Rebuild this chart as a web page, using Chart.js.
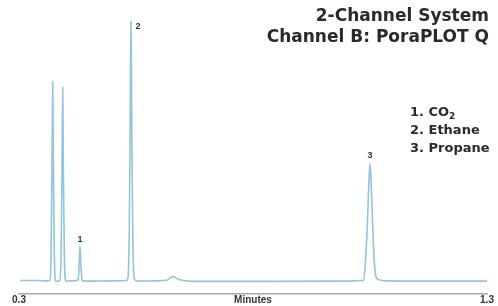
<!DOCTYPE html>
<html>
<head>
<meta charset="utf-8">
<script src="https://cdn.jsdelivr.net/npm/chart.js@4.4.1/dist/chart.umd.min.js"></script>
<style>
  body { margin: 0; background: #fff; }
  #wrap { position: relative; width: 498px; height: 306px; }
  .title {
    position: absolute; right: 9px; top: 5px;
    font-family: "DejaVu Sans", sans-serif; font-weight: bold;
    font-size: 17px; line-height: 21px; color: #2a2a2a; text-align: right;
  }
  .compounds {
    position: absolute; left: 410px; top: 103px;
    font-family: "DejaVu Sans", sans-serif; font-weight: bold;
    font-size: 13px; line-height: 18px; color: #2a2a2a;
  }
  .compounds sub { font-size: 9px; vertical-align: -3px; line-height: 0; }
</style>
</head>
<body>
<div id="wrap">
  <canvas id="chromChart"></canvas>
  <div class="title">2-Channel System<br>Channel B: PoraPLOT Q</div>
  <div class="compounds">1. CO<sub>2</sub><br>2. Ethane<br>3. Propane</div>
</div>
<script>
// retention time (min) and detector signal
const times = [
  0.302, 0.340, 0.360,
  0.3655, 0.3685, 0.3705, 0.3720, 0.3735, 0.3755, 0.3785,
  0.3825,
  0.3870, 0.3900, 0.3919, 0.3934, 0.3949, 0.3968, 0.3995,
  0.410, 0.424,
  0.4265, 0.4285, 0.4303, 0.4321, 0.4345, 0.437,
  0.460, 0.500, 0.530,
  0.5325, 0.5355, 0.5375, 0.5393, 0.5411, 0.5432, 0.5465,
  0.552, 0.590,
  0.615, 0.624, 0.629, 0.636, 0.648, 0.670,
  0.800, 1.000, 1.030,
  1.036, 1.040, 1.0445, 1.0475, 1.050, 1.0525, 1.0555, 1.0595, 1.064, 1.072, 1.085,
  1.200, 1.300
];
const signal = [
  4.9, 4.9, 4.8,
  4.9, 15, 45, 77.5, 45, 15, 4.6,
  4.7,
  4.9, 15, 44, 75.5, 44, 15, 4.7,
  4.8, 4.9,
  5.4, 11, 17.5, 11, 5.4, 4.8,
  4.7, 4.8, 4.9,
  5.6, 21, 60, 99.5, 60, 21, 5.6,
  4.7, 4.8,
  5.0, 6.0, 6.4, 5.8, 5.0, 4.6,
  4.6, 4.7, 4.9,
  5.0, 11, 26, 40.5, 47.6, 40.5, 26, 11, 5.9, 5.1, 4.8,
  4.7, 4.7
];

const peakLabels = ["1", "2", "3"];
const peakTimes = [0.4303, 0.5393, 1.050];
const peakHeights = [17.5, 99.5, 47.6];

const xTicks = [0.3, 0.8, 1.3];
const xTickText = ["0.3", "Minutes", "1.3"];

const points = times.map((t, i) => ({ x: t, y: signal[i] }));

// little numbers over the peaks
const peakLabelPlugin = {
  id: "peakLabels",
  afterDatasetsDraw(chart) {
    const { ctx, scales } = chart;
    const offsets = [[0, -7], [7, 5], [0, -8]];
    ctx.save();
    ctx.font = "bold 9px 'Liberation Sans', sans-serif";
    ctx.fillStyle = "#333";
    ctx.textAlign = "center";
    ctx.textBaseline = "middle";
    peakLabels.forEach((lbl, i) => {
      const x = scales.x.getPixelForValue(peakTimes[i]) + offsets[i][0];
      const y = scales.y.getPixelForValue(peakHeights[i]) + offsets[i][1];
      ctx.fillText(lbl, x, y);
    });
    ctx.restore();
  },
};

const chart = document.getElementById("chromChart").getContext("2d");
const myChromChart = new Chart(chart, {
  type: "line",
  data: {
    datasets: [
      {
        data: points,
        borderColor: "#92c3e0",
        borderWidth: 1.6,
        pointRadius: 0,
        cubicInterpolationMode: "monotone",
        fill: false,
      },
    ],
  },
  options: {
    responsive: true,
    maintainAspectRatio: false,
    animation: false,
    layout: { padding: { left: 19, right: 11, top: 20, bottom: 0 } },
    plugins: {
      legend: { display: false },
      tooltip: { enabled: false },
    },
    scales: {
      x: {
        type: "linear",
        min: 0.3,
        max: 1.3,
        afterBuildTicks: (axis) => {
          axis.ticks = xTicks.map((v) => ({ value: v }));
        },
        ticks: {
          padding: 0,
          maxRotation: 0,
          autoSkip: false,
          color: "#333",
          font: { family: "'Liberation Sans', sans-serif", size: 10, weight: "bold" },
          callback: (v, i) => xTickText[i],
        },
        grid: { display: true, drawOnChartArea: false, drawTicks: false },
        border: { display: true, color: "#a8a8a8", width: 1.5 },
      },
      y: {
        display: false,
        min: 0,
        max: 100,
      },
    },
  },
  plugins: [peakLabelPlugin],
});
</script>
</body>
</html>
